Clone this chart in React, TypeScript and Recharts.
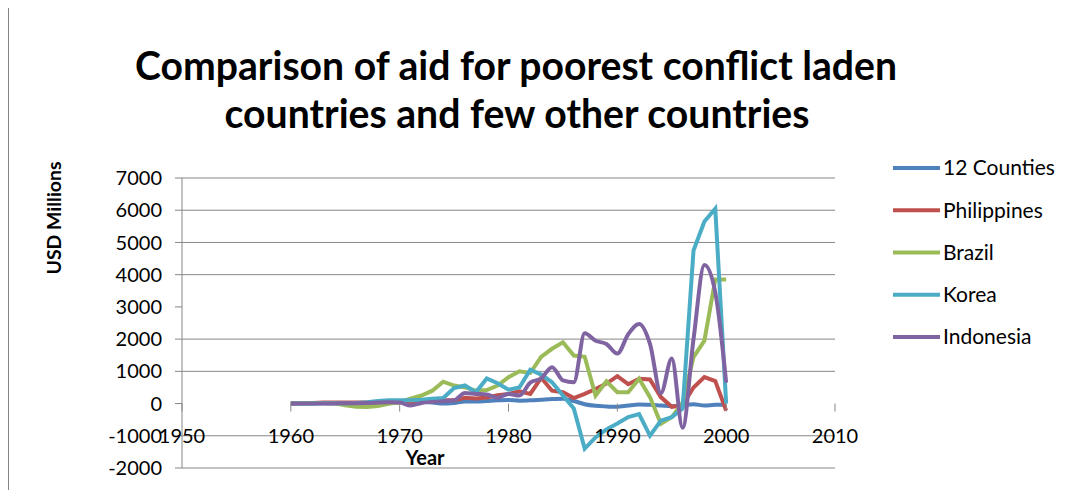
import { LineChart, Line, XAxis, YAxis, CartesianGrid } from "recharts";

const years = [
  1960, 1961, 1962, 1963, 1964, 1965, 1966, 1967, 1968, 1969, 1970, 1971, 1972,
  1973, 1974, 1975, 1976, 1977, 1978, 1979, 1980, 1981, 1982, 1983, 1984, 1985,
  1986, 1987, 1988, 1989, 1990, 1991, 1992, 1993, 1994, 1995, 1996, 1997, 1998,
  1999, 2000,
];

const counties12 = [
  0, 0, 5, 10, 10, 15, 15, 20, 25, 30, 40, 40, 45, 30, 0, 20, 60, 60, 80, 100,
  110, 90, 100, 120, 140, 150, 80, -20, -70, -90, -100, -60, -30, -40, -60, -80,
  -60, -20, -60, -40, -40,
];

const philippines = [
  0, 10, 20, 30, 30, 30, 30, 30, 25, 30, 40, 40, 60, 80, 100, 100, 180, 160, 190,
  260, 300, 380, 300, 800, 400, 350, 170, 300, 450, 620, 850, 600, 770, 750, 200,
  -100, -50, 500, 820, 700, -220,
];

const brazil = [
  20, 20, 20, 20, 10, -50, -100, -110, -80, -10, 50, 150, 250, 400, 680, 560, 500,
  400, 420, 560, 820, 1000, 950, 1450, 1700, 1900, 1490, 1450, 250, 690, 350, 350,
  770, 200, -630, -420, 30, 1440, 1950, 3850, 3850,
];

const korea = [
  0, 0, 5, 10, 10, 10, 20, 40, 80, 100, 100, 100, 120, 150, 170, 480, 560, 350,
  780, 630, 430, 500, 1050, 900, 660, 250, -150, -1400, -1050, -800, -620, -420,
  -330, -1000, -530, -420, -150, 4750, 5650, 6050, 0,
];

const indonesia = [
  0, 0, 0, 5, 5, 10, 10, 20, 30, 40, 30, -60, 20, 50, 70, 100, 330, 300, 280, 180,
  300, 250, 650, 780, 1130, 720, 660, 2180, 1950, 1850, 1550, 2150, 2470, 1850,
  320, 1400, -750, 2000, 4300, 3450, 650,
];

const xTicks = [1950, 1960, 1970, 1980, 1990, 2000, 2010];
const yTicks = [-2000, -1000, 0, 1000, 2000, 3000, 4000, 5000, 6000, 7000];
const gridValues = [-2000, -1000, 1000, 2000, 4000, 5000, 6000, 7000];

const series = [
  { key: "counties12", name: "12 Counties", color: "#4F81BD", values: counties12, curve: "monotone" },
  { key: "philippines", name: "Philippines", color: "#C0504D", values: philippines, curve: "linear" },
  { key: "brazil", name: "Brazil", color: "#9BBB59", values: brazil, curve: "linear" },
  { key: "korea", name: "Korea", color: "#4BACC6", values: korea, curve: "linear" },
  { key: "indonesia", name: "Indonesia", color: "#8064A2", values: indonesia, curve: "monotone" },
];

const data = years.map((year, i) => {
  const row: Record<string, number> = { year };
  series.forEach((s) => {
    row[s.key] = s.values[i];
  });
  return row;
});

const FONT = "Lato, 'Open Sans', sans-serif";
const GRID = "#868686";

// plot area inside the chart svg
const PLOT_TOP = 170;
const PLOT_H = 290;
const ZERO_Y = PLOT_TOP + PLOT_H * (7000 / 9000);

function XTick(props: any) {
  const { x, payload } = props;
  return (
    <g>
      <line x1={x} x2={x} y1={ZERO_Y} y2={ZERO_Y + 8} stroke={GRID} />
      <text
        x={x}
        y={ZERO_Y + 32}
        dy="0.35em"
        textAnchor="middle"
        fill="#000"
        fontSize={20}
        fontFamily={FONT}
      >
        {payload.value}
      </text>
    </g>
  );
}

export default function App() {
  return (
    <div style={{ position: "relative", width: 1050, height: 482 }}>
      <div
        style={{
          position: "absolute",
          left: 0,
          top: 0,
          width: 1051,
          height: 489,
          boxSizing: "border-box",
          borderLeft: `1px solid ${GRID}`,
          borderRight: `1px solid ${GRID}`,
          borderBottom: `1px solid ${GRID}`,
        }}
      />
      <LineChart
        width={1050}
        height={482}
        data={data}
        margin={{ top: PLOT_TOP, right: 223, bottom: 0, left: 114 }}
      >
        <CartesianGrid
          vertical={false}
          stroke={GRID}
          horizontalValues={gridValues}
        />
        <XAxis
          dataKey="year"
          type="number"
          domain={[1950, 2010]}
          ticks={xTicks}
          interval={0}
          height={22}
          axisLine={false}
          tickLine={false}
          tick={XTick}
        />
        <YAxis
          domain={[-2000, 7000]}
          ticks={yTicks}
          interval={0}
          width={60}
          tickSize={7}
          tickMargin={13}
          axisLine={{ stroke: GRID }}
          tickLine={{ stroke: GRID }}
          tick={{ fill: "#000", fontSize: 20, fontFamily: FONT }}
        />
        {series.map((s) => (
          <Line
            key={s.key}
            dataKey={s.key}
            name={s.name}
            type={s.curve as any}
            stroke={s.color}
            strokeWidth={4}
            dot={false}
            activeDot={false}
            isAnimationActive={false}
          />
        ))}
      </LineChart>
      <svg
        width={1050}
        height={482}
        style={{ position: "absolute", left: 0, top: 0, pointerEvents: "none" }}
        fontFamily={FONT}
      >
        <text x={508} y={72} textAnchor="middle" fontSize={40} fontWeight={700} textLength={762} lengthAdjust="spacingAndGlyphs">
          Comparison of aid for poorest conflict laden
        </text>
        <text x={509} y={120} textAnchor="middle" fontSize={40} fontWeight={700} textLength={585} lengthAdjust="spacingAndGlyphs">
          countries and few other countries
        </text>
        <text
          x={53}
          y={210}
          transform="rotate(-90 53 210)"
          textAnchor="middle"
          fontSize={19}
          fontWeight={700}
          textLength={113}
          lengthAdjust="spacingAndGlyphs"
        >
          USD Millions
        </text>
        <text x={417} y={457} textAnchor="middle" fontSize={20} fontWeight={700}>
          Year
        </text>
        {series.map((s, i) => (
          <g key={s.key}>
            <line x1={885} x2={932} y1={160 + i * 42.25} y2={160 + i * 42.25} stroke={s.color} strokeWidth={4} />
            <text x={935} y={160 + i * 42.25} dy="0.35em" fontSize={21} fill="#000">
              {s.name}
            </text>
          </g>
        ))}
      </svg>
    </div>
  );
}
